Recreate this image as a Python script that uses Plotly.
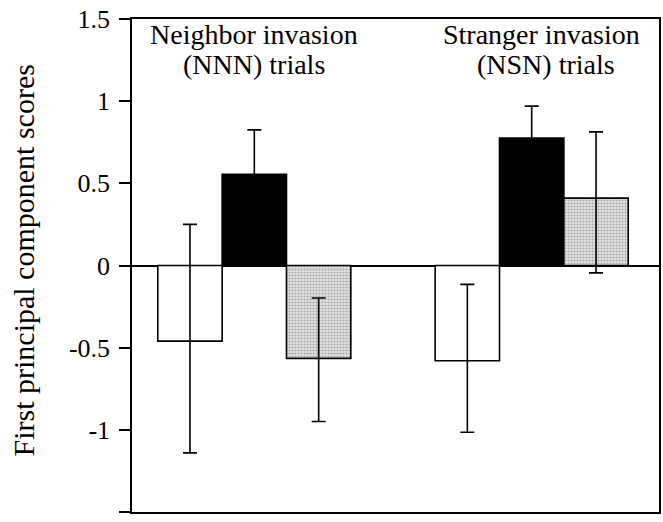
import plotly.graph_objects as go

groups = ["NNN", "NSN"]
series_names = ["Open", "Filled", "Stippled"]
white_vals = [-0.46, -0.58]
white_up = [0.71, 0.465]
white_down = [0.68, 0.435]
black_vals = [0.555, 0.775]
black_up = [0.27, 0.195]
black_down = [0.27, 0.195]
gray_vals = [-0.565, 0.41]
gray_up = [0.367, 0.403]
gray_down = [0.384, 0.455]
y_ticks = [-1.5, -1, -0.5, 0, 0.5, 1, 1.5]
y_tick_labels = ["-1.5", "-1", "-0.5", "0", "0.5", "1", "1.5"]
group_labels = [("Neighbor invasion", "(NNN) trials"), ("Stranger invasion", "(NSN) trials")]

FONT = "Liberation Serif"

def err(up, down):
    return dict(type="data", symmetric=False, array=up, arrayminus=down,
                color="black", thickness=1.6, width=7)

fig = go.Figure()
fig.add_trace(go.Bar(x=groups, y=white_vals, name=series_names[0],
                     marker=dict(color="white", line=dict(color="black", width=1.6)),
                     error_y=err(white_up, white_down)))
fig.add_trace(go.Bar(x=groups, y=black_vals, name=series_names[1],
                     marker=dict(color="black", line=dict(color="black", width=1.6)),
                     error_y=err(black_up, black_down)))
fig.add_trace(go.Bar(x=groups, y=gray_vals, name=series_names[2],
                     marker=dict(color="#cccccc", line=dict(color="black", width=1.6),
                                 pattern=dict(shape=".", fgcolor="#666666", bgcolor="#e4e4e4",
                                              size=3, solidity=0.4)),
                     error_y=err(gray_up, gray_down)))

annotations = []
line1_y = [0.968, 0.968]
line2_y = [0.907, 0.907]
x_line1 = [0.0, 1.034]
x_line2 = [0.0, 1.053]
for i, (l1, l2) in enumerate(group_labels):
    annotations.append(dict(text=l1, x=x_line1[i], y=line1_y[i], xref="x", yref="paper",
                            showarrow=False, xanchor="center", yanchor="middle",
                            font=dict(family=FONT, size=28, color="black")))
    annotations.append(dict(text=l2, x=x_line2[i], y=line2_y[i], xref="x", yref="paper",
                            showarrow=False, xanchor="center", yanchor="middle",
                            font=dict(family=FONT, size=28, color="black")))
annotations.append(dict(text="First principal component scores", x=-0.205, y=0.51,
                        xref="paper", yref="paper", textangle=-90, showarrow=False,
                        xanchor="center", yanchor="middle",
                        font=dict(family=FONT, size=30, color="black")))

fig.update_layout(
    width=663, height=522,
    margin=dict(l=132, r=4, t=19, b=10, autoexpand=False),
    paper_bgcolor="white", plot_bgcolor="white",
    barmode="group", bargap=0.304, bargroupgap=0,
    showlegend=False,
    annotations=annotations,
    font=dict(family=FONT, color="black"),
    xaxis=dict(type="category", range=[-0.441, 1.459], showticklabels=False, ticks="",
               showgrid=False, showline=True, linecolor="black", linewidth=1.5, mirror=True,
               zeroline=False, automargin=False),
    yaxis=dict(range=[-1.5, 1.5], tickvals=y_ticks, ticktext=y_tick_labels,
               ticks="outside", ticklen=11, tickwidth=1.5, tickcolor="black",
               showgrid=False, showline=True, linecolor="black", linewidth=1.5, mirror=True,
               zeroline=True, zerolinecolor="black", zerolinewidth=1.5, automargin=False,
               tickfont=dict(family=FONT, size=26, color="black"), ticklabelstandoff=4),
)

fig.write_html("out.html", config={"displayModeBar": False},
               post_script="document.body.style.margin='0';")
